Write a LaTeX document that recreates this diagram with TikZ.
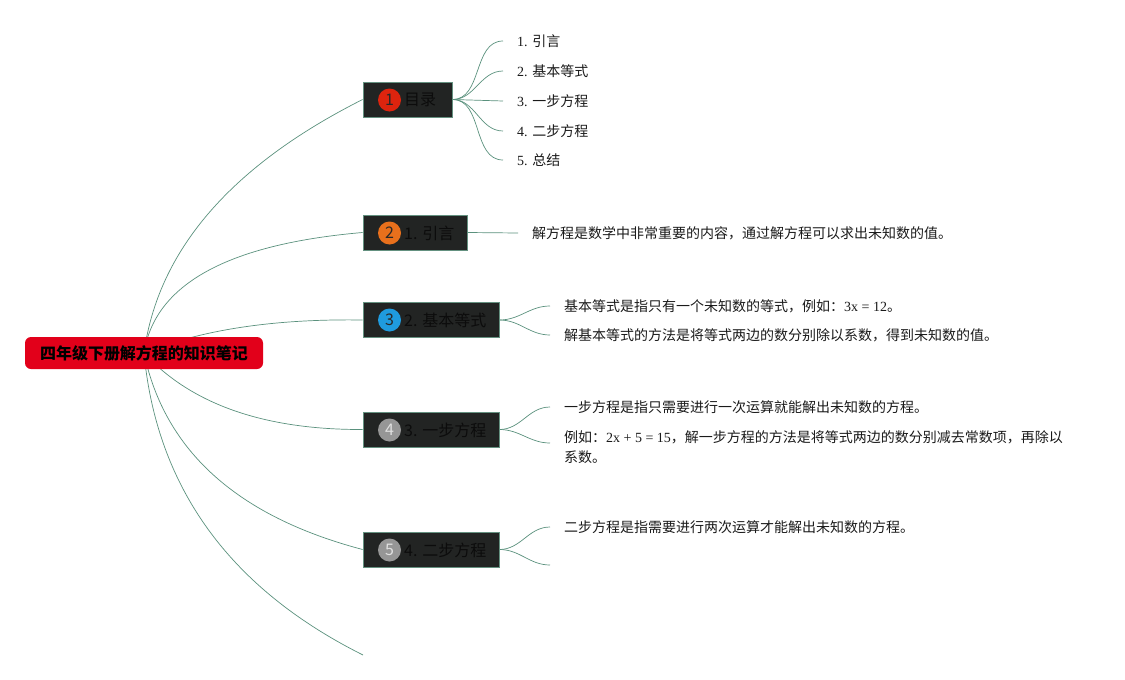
\documentclass[tikz,border=0pt]{standalone}
\usepackage{fontspec}
\setmainfont{Liberation Serif}
\newfontfamily\cjk{Noto Sans CJK SC}
\usetikzlibrary{calc,backgrounds}
\definecolor{conn}{RGB}{90,145,125}
\definecolor{rootred}{RGB}{226,0,26}
\definecolor{nodefill}{RGB}{34,36,35}
\definecolor{nodeedge}{RGB}{100,145,128}
\definecolor{btextcol}{RGB}{12,12,12}
\definecolor{leafcol}{RGB}{26,26,26}
\definecolor{bred}{RGB}{221,36,14}
\definecolor{borange}{RGB}{232,112,28}
\definecolor{bblue}{RGB}{31,155,222}
\definecolor{bgray}{RGB}{150,150,150}
\definecolor{dig}{RGB}{40,40,40}
\definecolor{diglight}{RGB}{225,225,225}
\begin{document}
\begin{tikzpicture}[x=1pt,y=-1pt,
 rootbox/.style={draw=none, fill=rootred, rounded corners=6pt, minimum width=238pt, minimum height=32pt, inner sep=0pt, font=\cjk\bfseries\fontsize{16}{18}\selectfont, text=black},
 branchbox/.style={draw=nodeedge, line width=0.8pt, fill=nodefill, minimum height=35pt, inner sep=0pt},
 badge/.style={circle, minimum size=23pt, inner sep=0pt, font=\cjk\fontsize{16}{16}\selectfont},
 btext/.style={anchor=west, inner sep=0pt, font=\cjk\fontsize{16}{18}\selectfont, text=btextcol},
 leaf/.style={anchor=west, inner xsep=14pt, inner ysep=2pt, font=\fontsize{14}{20}\selectfont, align=left, text=leafcol},
 link/.style={draw=conn, line width=0.7pt},
]
\useasboundingbox (0,0) rectangle (1125,680);

% root
\node[rootbox] (root) at (144,353) {四年级下册解方程的知识笔记};

% branch boxes
\node[branchbox, minimum width=89pt] (b1) at (407.5,99.5) {};
\node[branchbox, minimum width=104pt] (b2) at (415,232.5) {};
\node[branchbox, minimum width=136pt] (b3) at (431,320) {};
\node[branchbox, minimum width=136pt] (b4) at (431,429.5) {};
\node[branchbox, minimum width=136pt] (b5) at (431,549.5) {};

% badges
\node[badge, fill=bred, text=dig] (k1) at (389.5,100) {1};
\node[badge, fill=borange, text=dig] (k2) at (389.5,233) {2};
\node[badge, fill=bblue, text=dig] (k3) at (389.5,320) {3};
\node[badge, fill=bgray, text=diglight] (k4) at (389.5,430) {4};
\node[badge, fill=bgray, text=diglight] (k5) at (389.5,550) {5};

% branch texts
\node[btext] (t1) at (404,100) {目录};
\node[btext] (t2) at (404,233) {1. 引言};
\node[btext] (t3) at (404,320) {2. 基本等式};
\node[btext] (t4) at (404,430) {3. 一步方程};
\node[btext] (t5) at (404,550) {4. 二步方程};

% leaves
\node[leaf] (l11) at (503,41) {1. {\cjk 引言}};
\node[leaf] (l12) at (503,71) {2. {\cjk 基本等式}};
\node[leaf] (l13) at (503,101) {3. {\cjk 一步方程}};
\node[leaf] (l14) at (503,131) {4. {\cjk 二步方程}};
\node[leaf] (l15) at (503,160) {5. {\cjk 总结}};
\node[leaf] (l21) at (518,233) {{\cjk 解方程是数学中非常重要的内容，通过解方程可以求出未知数的值。}};
\node[leaf] (l31) at (550,306) {{\cjk 基本等式是指只有一个未知数的等式，例如：}3x = 12{\cjk 。}};
\node[leaf] (l32) at (550,335) {{\cjk 解基本等式的方法是将等式两边的数分别除以系数，得到未知数的值。}};
\node[leaf] (l41) at (550,407) {{\cjk 一步方程是指只需要进行一次运算就能解出未知数的方程。}};
\node[leaf] (l42) at (550,447) {{\cjk 例如：}2x + 5 = 15{\cjk ，解一步方程的方法是将等式两边的数分别减去常数项，再除以}\\{\cjk 系数。}};
\node[leaf] (l51) at (550,527) {{\cjk 二步方程是指需要进行两次运算才能解出未知数的方程。}};
\coordinate (l52) at (550,565);
\coordinate (e6) at (363,655);

\begin{scope}[on background layer]
% root connectors (quadratic curves)
\foreach \tgt/\cx/\cy in {b1.west/165/199, b2.west/160/250, b3.west/230/318, b4.west/215/430, b5.west/175/500, e6/163/555}{
  \draw[link] (root.center) .. controls ($(root.center)!0.6667!(\cx,\cy)$) and ($(\tgt)!0.6667!(\cx,\cy)$) .. (\tgt);
}
% leaf connectors
\foreach \l in {l11,l12,l14,l15}{
  \draw[link] (b1.east) to[out=0,in=180] (\l.west);
}
\draw[link] (b1.east) -- (l13.west);
\draw[link] (b2.east) -- (l21.west);
\draw[link] (b3.east) to[out=0,in=180] (l31.west);
\draw[link] (b3.east) to[out=0,in=180] (l32.west);
\draw[link] (b4.east) to[out=0,in=180] (l41.west);
\draw[link] (b4.east) to[out=0,in=180] ($(l42.west)+(0,-4)$);
\draw[link] (b5.east) to[out=0,in=180] (l51.west);
\draw[link] (b5.east) to[out=0,in=180] (l52);
\end{scope}
\end{tikzpicture}
\end{document}
